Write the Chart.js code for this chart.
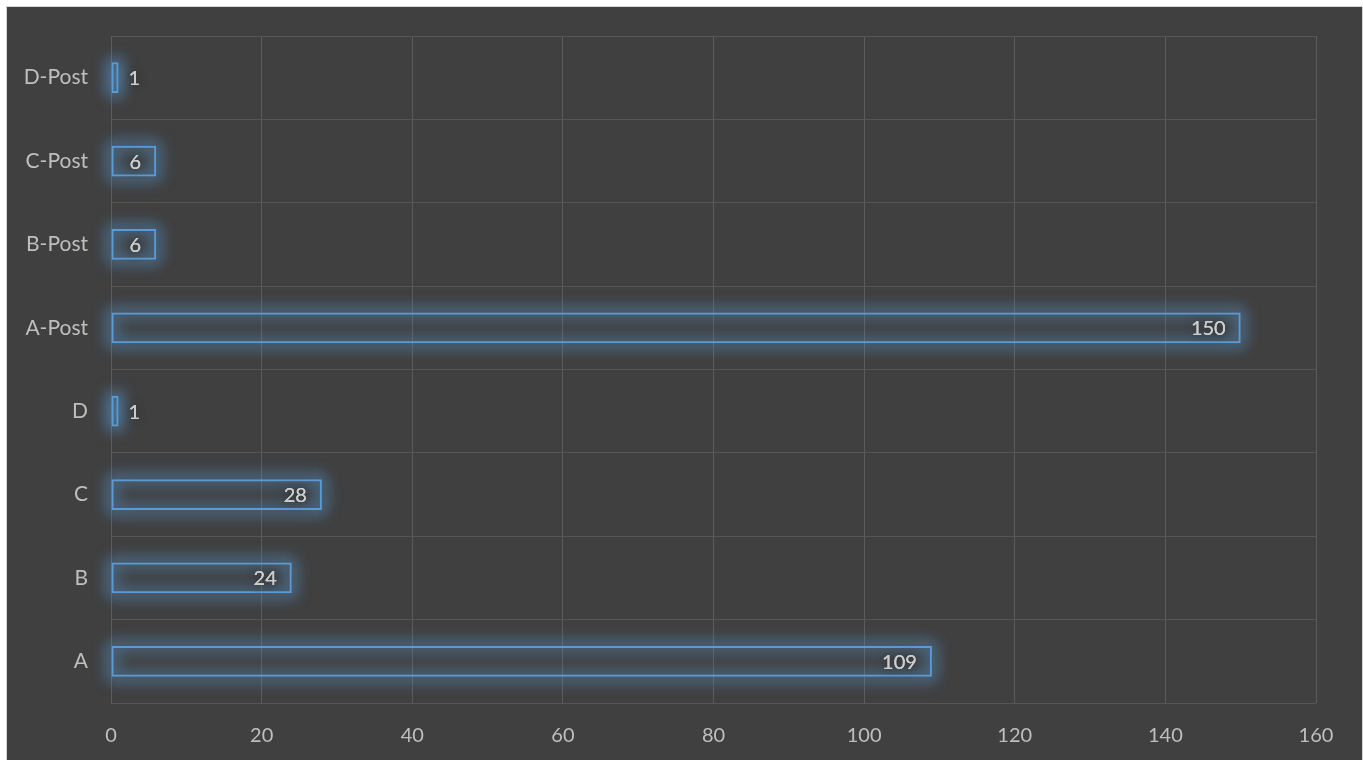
<!DOCTYPE html>
<html>
<head>
<meta charset="utf-8">
<script src="https://cdn.jsdelivr.net/npm/chart.js@4/dist/chart.umd.min.js"></script>
<style>
  html, body { margin: 0; padding: 0; background: #ffffff; }
  #frame {
    position: absolute; left: 6px; top: 6px;
    width: 1355px; height: 760px;
    border: 1px solid #d4d4d4; border-bottom: none;
    background: #404040;
  }
  #chart { position: absolute; left: 0; top: 0; }
</style>
</head>
<body>
<div id="frame"><canvas id="chart" width="1355" height="754"></canvas></div>
<script>
// Categories from bottom to top, with their counts
const categories = ['A', 'B', 'C', 'D', 'A-Post', 'B-Post', 'C-Post', 'D-Post'];
const counts = [109, 24, 28, 1, 150, 6, 6, 1];
const xTicks = [0, 20, 40, 60, 80, 100, 120, 140, 160];

const FONT = 'Lato, "Open Sans", sans-serif';
const BLUE = '#5B9BD5';

// Soft blue glow around every bar outline: only the blurred shadow of an
// off-canvas stroke lands on the chart, so the outline itself stays thin
const glowPlugin = {
  id: 'barGlow',
  beforeDatasetsDraw(chart) {
    const ctx = chart.ctx;
    const shift = 10000;
    chart.getDatasetMeta(0).data.forEach(bar => {
      const p = bar.getProps(['x', 'y', 'base', 'height'], true);
      const left = Math.min(p.x, p.base), w = Math.abs(p.x - p.base);
      ctx.save();
      ctx.shadowColor = 'rgba(91,155,213,0.75)';
      ctx.shadowBlur = 16;
      ctx.shadowOffsetX = shift;
      ctx.strokeStyle = BLUE;
      ctx.lineWidth = 4;
      for (let k = 0; k < 2; k++) {
        ctx.strokeRect(left - shift, p.y - p.height / 2, w, p.height);
      }
      ctx.restore();
    });
  }
};

// Value labels at the inner end of each bar, or just past it when the bar is too short
const valueLabels = {
  id: 'valueLabels',
  afterDatasetsDraw(chart) {
    const ctx = chart.ctx;
    const ds = chart.data.datasets[0];
    ctx.save();
    ctx.font = '20px ' + FONT;
    ctx.textBaseline = 'middle';
    chart.getDatasetMeta(0).data.forEach((bar, i) => {
      const p = bar.getProps(['x', 'y', 'base'], true);
      const text = String(ds.data[i]);
      const tw = ctx.measureText(text).width;
      const len = p.x - p.base;
      let tx;
      if (len > tw + 24) {
        ctx.textAlign = 'right';
        tx = p.x - 15;
      } else {
        ctx.textAlign = 'left';
        tx = p.x + 10;
      }
      ctx.shadowColor = 'rgba(35,35,35,0.9)';
      ctx.shadowBlur = 8;
      ctx.fillStyle = '#cdcdcd';
      ctx.fillText(text, tx, p.y + 1);
      ctx.shadowBlur = 0;
      ctx.fillText(text, tx, p.y + 1);
    });
    ctx.restore();
  }
};

new Chart(document.getElementById('chart'), {
  type: 'bar',
  data: {
    labels: categories,
    datasets: [{
      data: counts,
      backgroundColor: 'rgba(64,64,64,0)',
      borderColor: BLUE,
      borderWidth: 2,
      borderSkipped: false,
      barPercentage: 0.37,
      categoryPercentage: 1
    }]
  },
  options: {
    indexAxis: 'y',
    responsive: false,
    animation: false,
    events: [],
    layout: { padding: { top: 29, right: 46, left: 0, bottom: 0 } },
    plugins: { legend: { display: false }, tooltip: { enabled: false } },
    scales: {
      x: {
        min: 0, max: 160,
        afterBuildTicks(scale) { scale.ticks = xTicks.map(v => ({ value: v })); },
        afterFit(scale) { scale.height = 58; scale.paddingLeft = 0; scale.paddingRight = 0; },
        grid: { color: '#5c5c5c', lineWidth: 1, drawTicks: false },
        border: { display: false },
        ticks: { color: '#bfbfbf', font: { family: FONT, size: 20 }, padding: 21 }
      },
      y: {
        reverse: true,
        afterFit(scale) { scale.width = 104; scale.paddingTop = 0; scale.paddingBottom = 0; },
        grid: { color: '#565656', lineWidth: 1, drawTicks: false, offset: true },
        border: { display: false },
        ticks: { color: '#bfbfbf', font: { family: FONT, size: 21 }, padding: 23 }
      }
    }
  },
  plugins: [glowPlugin, valueLabels]
});
</script>
</body>
</html>
